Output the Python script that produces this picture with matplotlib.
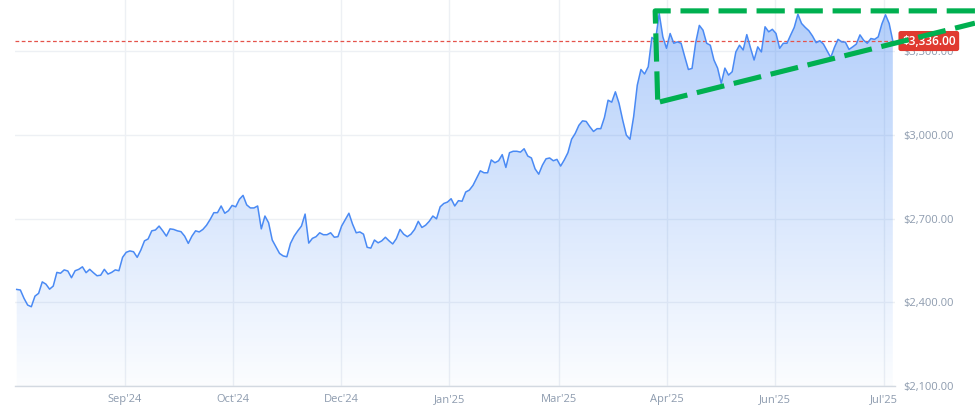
import numpy as np
import matplotlib
matplotlib.use("Agg")
import matplotlib.pyplot as plt

plt.rcParams['font.family'] = ['Open Sans', 'DejaVu Sans']

# ---- data (trading-day index, closing price in USD) ----
days = [0, 1, 2, 3, 4, 5, 6, 7, 8, 9, 10, 11, 12, 13, 14, 15, 16, 17, 18, 19,
        20, 21, 22, 23, 24, 25, 26, 27, 28, 29, 30, 31, 32, 33, 34, 35, 36, 37, 38, 39,
        40, 41, 42, 43, 44, 45, 46, 47, 48, 49, 50, 51, 52, 53, 54, 55, 56, 57, 58, 59,
        60, 61, 62, 63, 64, 65, 66, 67, 68, 69, 70, 71, 72, 73, 74, 75, 76, 77, 78, 79,
        80, 81, 82, 83, 84, 85, 86, 87, 88, 89, 91, 92, 93, 94, 95, 96, 97, 98, 99,
        100, 101, 102, 103, 104, 105, 106, 107, 108, 109, 110, 111, 112, 113, 114, 115, 116, 117, 118, 119,
        120, 121, 122, 123, 124, 125, 126, 127, 128, 129, 130, 131, 132, 133, 134, 135, 136, 137, 138, 139,
        140, 141, 142, 143, 144, 145, 146, 147, 148, 149, 150, 151, 152, 153, 154, 155, 156, 157, 158, 159,
        160, 161, 162, 163, 164, 165, 166, 167, 168, 169, 170, 171, 172, 173, 174, 175, 176, 177, 178, 179,
        180, 181, 182, 183, 184, 185, 186, 187, 188, 189, 190, 191, 192, 193, 194, 195, 196, 197, 198, 199,
        200, 201, 202, 203, 204, 205, 206, 207, 208, 209, 210, 211, 212, 213, 214, 215, 216, 217, 218, 219,
        220, 221, 223, 224, 225, 226, 227, 228, 229, 230, 231, 232, 233, 234, 235, 236, 237, 238, 239, 240]
prices = [2446, 2444, 2414, 2390, 2384, 2422, 2432, 2473, 2465, 2447, 2458, 2507, 2504, 2516, 2512, 2488, 2513, 2518, 2527, 2506,
          2518, 2506, 2495, 2497, 2518, 2501, 2507, 2516, 2513, 2561, 2579, 2584, 2581, 2561, 2587, 2620, 2627, 2656, 2659, 2673,
          2656, 2637, 2663, 2661, 2656, 2653, 2637, 2611, 2637, 2656, 2652, 2661, 2676, 2697, 2721, 2721, 2745, 2719, 2728, 2747,
          2742, 2769, 2783, 2749, 2738, 2738, 2745, 2663, 2709, 2685, 2623, 2599, 2575, 2566, 2563, 2611, 2637, 2656, 2673, 2716,
          2612, 2629, 2635, 2649, 2642, 2642, 2649, 2633, 2635, 2673, 2719, 2680, 2649, 2652, 2644, 2597, 2594, 2623, 2613,
          2620, 2633, 2620, 2609, 2628, 2661, 2644, 2635, 2644, 2661, 2690, 2668, 2676, 2690, 2709, 2699, 2742, 2754, 2759, 2771,
          2745, 2764, 2762, 2795, 2802, 2819, 2845, 2871, 2864, 2864, 2910, 2900, 2907, 2929, 2883, 2936, 2941, 2941, 2938, 2950,
          2924, 2917, 2878, 2859, 2891, 2914, 2917, 2907, 2912, 2888, 2910, 2936, 2984, 3005, 3034, 3050, 3048, 3029, 3012, 3022,
          3022, 3062, 3124, 3117, 3154, 3113, 3053, 2999, 2984, 3065, 3178, 3234, 3218, 3244, 3349, 3339, 3435, 3351, 3310, 3363,
          3328, 3333, 3328, 3280, 3234, 3238, 3330, 3392, 3375, 3328, 3321, 3268, 3239, 3184, 3239, 3214, 3226, 3297, 3321, 3304,
          3359, 3312, 3268, 3315, 3297, 3387, 3369, 3378, 3363, 3310, 3328, 3328, 3357, 3385, 3432, 3399, 3385, 3373, 3354, 3330,
          3337, 3325, 3277, 3313, 3342, 3333, 3332, 3306, 3315, 3325, 3358, 3339, 3328, 3345, 3342, 3351, 3397, 3430, 3399, 3336]

x_tick_labels = ["Sep'24", "Oct'24", "Dec'24", "Jan'25", "Mar'25", "Apr'25", "Jun'25", "Jul'25"]
y_ticks = [2100, 2400, 2700, 3000, 3300]
last_price = 3336

# ---- layout ----
x_tick_pos = [29.7, 59.3, 88.9, 118.5, 148.6, 178.2, 207.8, 237.6]
XMIN, XMAX = -0.47, 240.6
YMIN, YMAX = 2100, 3483

fig = plt.figure(figsize=(9.75, 4.11), dpi=100, facecolor='white')
ax = fig.add_axes([15 / 975, 25 / 411, 880 / 975, 386 / 411])
ax.set_facecolor('white')

# gradient fill under the line
poly = ax.fill_between(days, prices, YMIN, color='none', lw=0)
n = 256
grad = np.zeros((n, 1, 4))
base = np.array([0.23, 0.51, 0.96])
grad[:, 0, :3] = base
grad[:, 0, 3] = np.linspace(0.02, 0.40, n)
im = ax.imshow(grad, extent=[XMIN, XMAX, YMIN, YMAX], origin='lower',
               aspect='auto', zorder=1, interpolation='bilinear')
im.set_clip_path(poly.get_paths()[0], transform=ax.transData)

ax.plot(days, prices, color='#4A8AF4', lw=1.1, zorder=3, solid_joinstyle='round')

# current price line and label
ax.axhline(last_price, color='#E5534B', lw=0.9, ls=(0, (3, 2)), zorder=2.6)
ax.annotate(f"${last_price:,.2f}", xy=(1, last_price), xycoords=('axes fraction', 'data'),
            xytext=(7, 0), textcoords='offset pixels', ha='left', va='center',
            color='white', fontsize=8.5, fontweight='semibold', zorder=10,
            bbox=dict(boxstyle='round,pad=0.3,rounding_size=0.2', fc='#E03A30', ec='none'),
            annotation_clip=False)

# green dashed pattern annotation
green_kw = dict(color='#00B050', lw=3.7, ls=(0, (5.5, 1.9)), clip_on=False, zorder=11,
                solid_capstyle='butt', dash_capstyle='butt')
ax.plot([262.5, 174.9, 175.6], [3444, 3444, 3118], **green_kw)
ax.plot([176.2, 262.5], [3118, 3400], **green_kw)

ax.set_xlim(XMIN, XMAX)
ax.set_ylim(YMIN, YMAX)
ax.set_xticks(x_tick_pos)
ax.set_xticklabels(x_tick_labels)
ax.set_yticks(y_ticks)
ax.set_yticklabels([f"${v:,.2f}" for v in y_ticks])
ax.yaxis.tick_right()
ax.tick_params(axis='both', length=0, labelsize=8, labelcolor='#8D9BAE')
ax.tick_params(axis='y', pad=6)
ax.tick_params(axis='x', pad=6)
ax.grid(True, color='#EDF0F4', lw=1.0, zorder=0)
ax.set_axisbelow(True)
for s in ['top', 'left', 'right']:
    ax.spines[s].set_visible(False)
ax.spines['bottom'].set_color('#D3D9E1')
ax.spines['bottom'].set_linewidth(1.0)

fig.savefig('out.png', dpi=100, facecolor='white')
